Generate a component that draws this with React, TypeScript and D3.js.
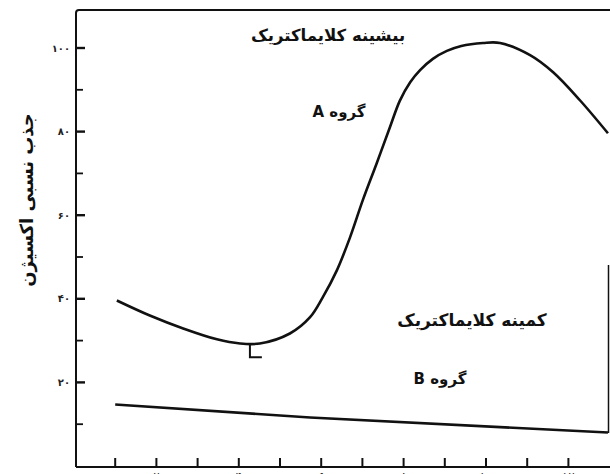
import React from "react";
import * as d3 from "d3";

// ---- data ----
const groupA_x = [1.04, 1.84, 2.65, 3.47, 4.03, 4.51, 5.24, 5.73, 6.04, 6.38, 6.7, 7.01, 7.35, 7.67, 7.91, 8.16, 8.4, 8.71, 9.05, 9.4, 9.93, 10.34, 11.07, 11.63, 12.28, 12.96];
const groupA_y = [39.6, 36.0, 32.9, 30.3, 29.3, 29.3, 31.7, 35.6, 40.4, 46.8, 54.7, 63.6, 72.5, 81.1, 87.4, 91.8, 94.7, 97.4, 99.3, 100.5, 101.2, 101.2, 98.3, 94.2, 87.5, 79.6];
const groupB_x = [1.0, 5.73, 12.96];
const groupB_y = [14.7, 11.6, 8.0];
const markX = [4.27, 4.27, 4.56];
const markY = [29.3, 26.0, 26.0];
const yMajorTicks = [20, 40, 60, 80, 100];
const yMinorTicks = [10, 30, 50, 70, 90];
const yTickLabels = ["۲۰", "۴۰", "۶۰", "۸۰", "۱۰۰"];
const xTicks = [1, 2, 3, 4, 5, 6, 7, 8, 9, 10, 11, 12];
const xLabelValues = [0, 2, 4, 6, 8, 10, 12];
const xTickLabels = ["۰", "۲", "۴", "۶", "۸", "۱۰", "۱۲"];
const yTitle = "جذب نسبی اکسیژن";
const maxLabel = "بیشینه کلایماکتریک";
const minLabel = "کمینه کلایماکتریک";
const groupALabel = "گروه A";
const groupBLabel = "گروه B";

const W = 610;
const H = 474;

export default function App() {
  const x = d3.scaleLinear().domain([0, 13]).range([74, 609.6]);
  const y = d3.scaleLinear().domain([0, 100]).range([466, 48]);
  const axisX = 76;
  const axisBottom = 467;
  const topY = 10;

  const lineGen = d3
    .line<[number, number]>()
    .x((d) => x(d[0]))
    .y((d) => y(d[1]))
    .curve(d3.curveCatmullRom.alpha(0.5));
  const straight = d3
    .line<[number, number]>()
    .x((d) => x(d[0]))
    .y((d) => y(d[1]));

  const aPts = groupA_x.map((v, i) => [v, groupA_y[i]] as [number, number]);
  const bPts = groupB_x.map((v, i) => [v, groupB_y[i]] as [number, number]);
  const mPts = markX.map((v, i) => [v, markY[i]] as [number, number]);

  const font = "'DejaVu Sans', sans-serif";

  return (
    <svg
      width={W}
      height={H}
      style={{ position: "absolute", left: 0, top: 0, background: "#fff" }}
    >
      <rect x={0} y={0} width={W} height={H} fill="#fff" />
      {/* frame */}
      <path
        d={`M${axisX},${axisBottom} L${axisX},${topY + 3} Q${axisX},${topY} ${axisX + 3},${topY} L${W},${topY}`}
        fill="none"
        stroke="#111"
        strokeWidth={2}
      />
      <line x1={axisX} x2={W} y1={axisBottom} y2={axisBottom} stroke="#111" strokeWidth={2.2} />
      <line x1={608.5} x2={608.5} y1={265} y2={433} stroke="#111" strokeWidth={1.5} />

      {/* y ticks */}
      {yMajorTicks.map((t, i) => (
        <g key={"ym" + t}>
          <line x1={axisX} x2={axisX + 9} y1={y(t)} y2={y(t)} stroke="#111" strokeWidth={2.4} />
          <text
            x={70}
            y={y(t)}
            dy="0.35em"
            textAnchor="end"
            fontFamily={font}
            fontWeight="bold"
            fontSize={10}
            fill="#222"
          >
            {yTickLabels[i]}
          </text>
        </g>
      ))}
      {yMinorTicks.map((t) => (
        <line key={"yn" + t} x1={axisX} x2={axisX + 7} y1={y(t)} y2={y(t)} stroke="#111" strokeWidth={1.8} />
      ))}

      {/* x ticks */}
      {xTicks.map((t) => (
        <line key={"xt" + t} x1={x(t)} x2={x(t)} y1={axisBottom} y2={axisBottom - 9} stroke="#111" strokeWidth={2} />
      ))}
      {xLabelValues.map((t, i) => (
        <text
          key={"xl" + t}
          x={x(t)}
          y={480}
          textAnchor="middle"
          fontFamily={font}
          fontSize={11}
          fill="#222"
        >
          {xTickLabels[i]}
        </text>
      ))}

      {/* curves */}
      <path d={lineGen(aPts) || ""} fill="none" stroke="#111" strokeWidth={2.6} strokeLinejoin="round" />
      <path d={straight(bPts) || ""} fill="none" stroke="#111" strokeWidth={2.6} />
      <path d={straight(mPts) || ""} fill="none" stroke="#111" strokeWidth={2} />

      {/* y title */}
      <text
        transform={`translate(33,200) rotate(-90)`}
        textAnchor="middle"
        direction="rtl"
        fontFamily={font}
        fontWeight="bold"
        fontSize={18}
        fill="#111"
      >
        {yTitle}
      </text>

      {/* annotations */}
      <text x={328} y={41} textAnchor="middle" direction="rtl" fontFamily={font} fontWeight="bold" fontSize={16.5} fill="#111">
        {maxLabel}
      </text>
      <text x={339} y={117} textAnchor="middle" direction="rtl" fontFamily={font} fontWeight="bold" fontSize={15} fill="#111">
        {groupALabel}
      </text>
      <text x={472} y={326} textAnchor="middle" direction="rtl" fontFamily={font} fontWeight="bold" fontSize={17} fill="#111">
        {minLabel}
      </text>
      <text x={440} y={384} textAnchor="middle" direction="rtl" fontFamily={font} fontWeight="bold" fontSize={15} fill="#111">
        {groupBLabel}
      </text>
    </svg>
  );
}
